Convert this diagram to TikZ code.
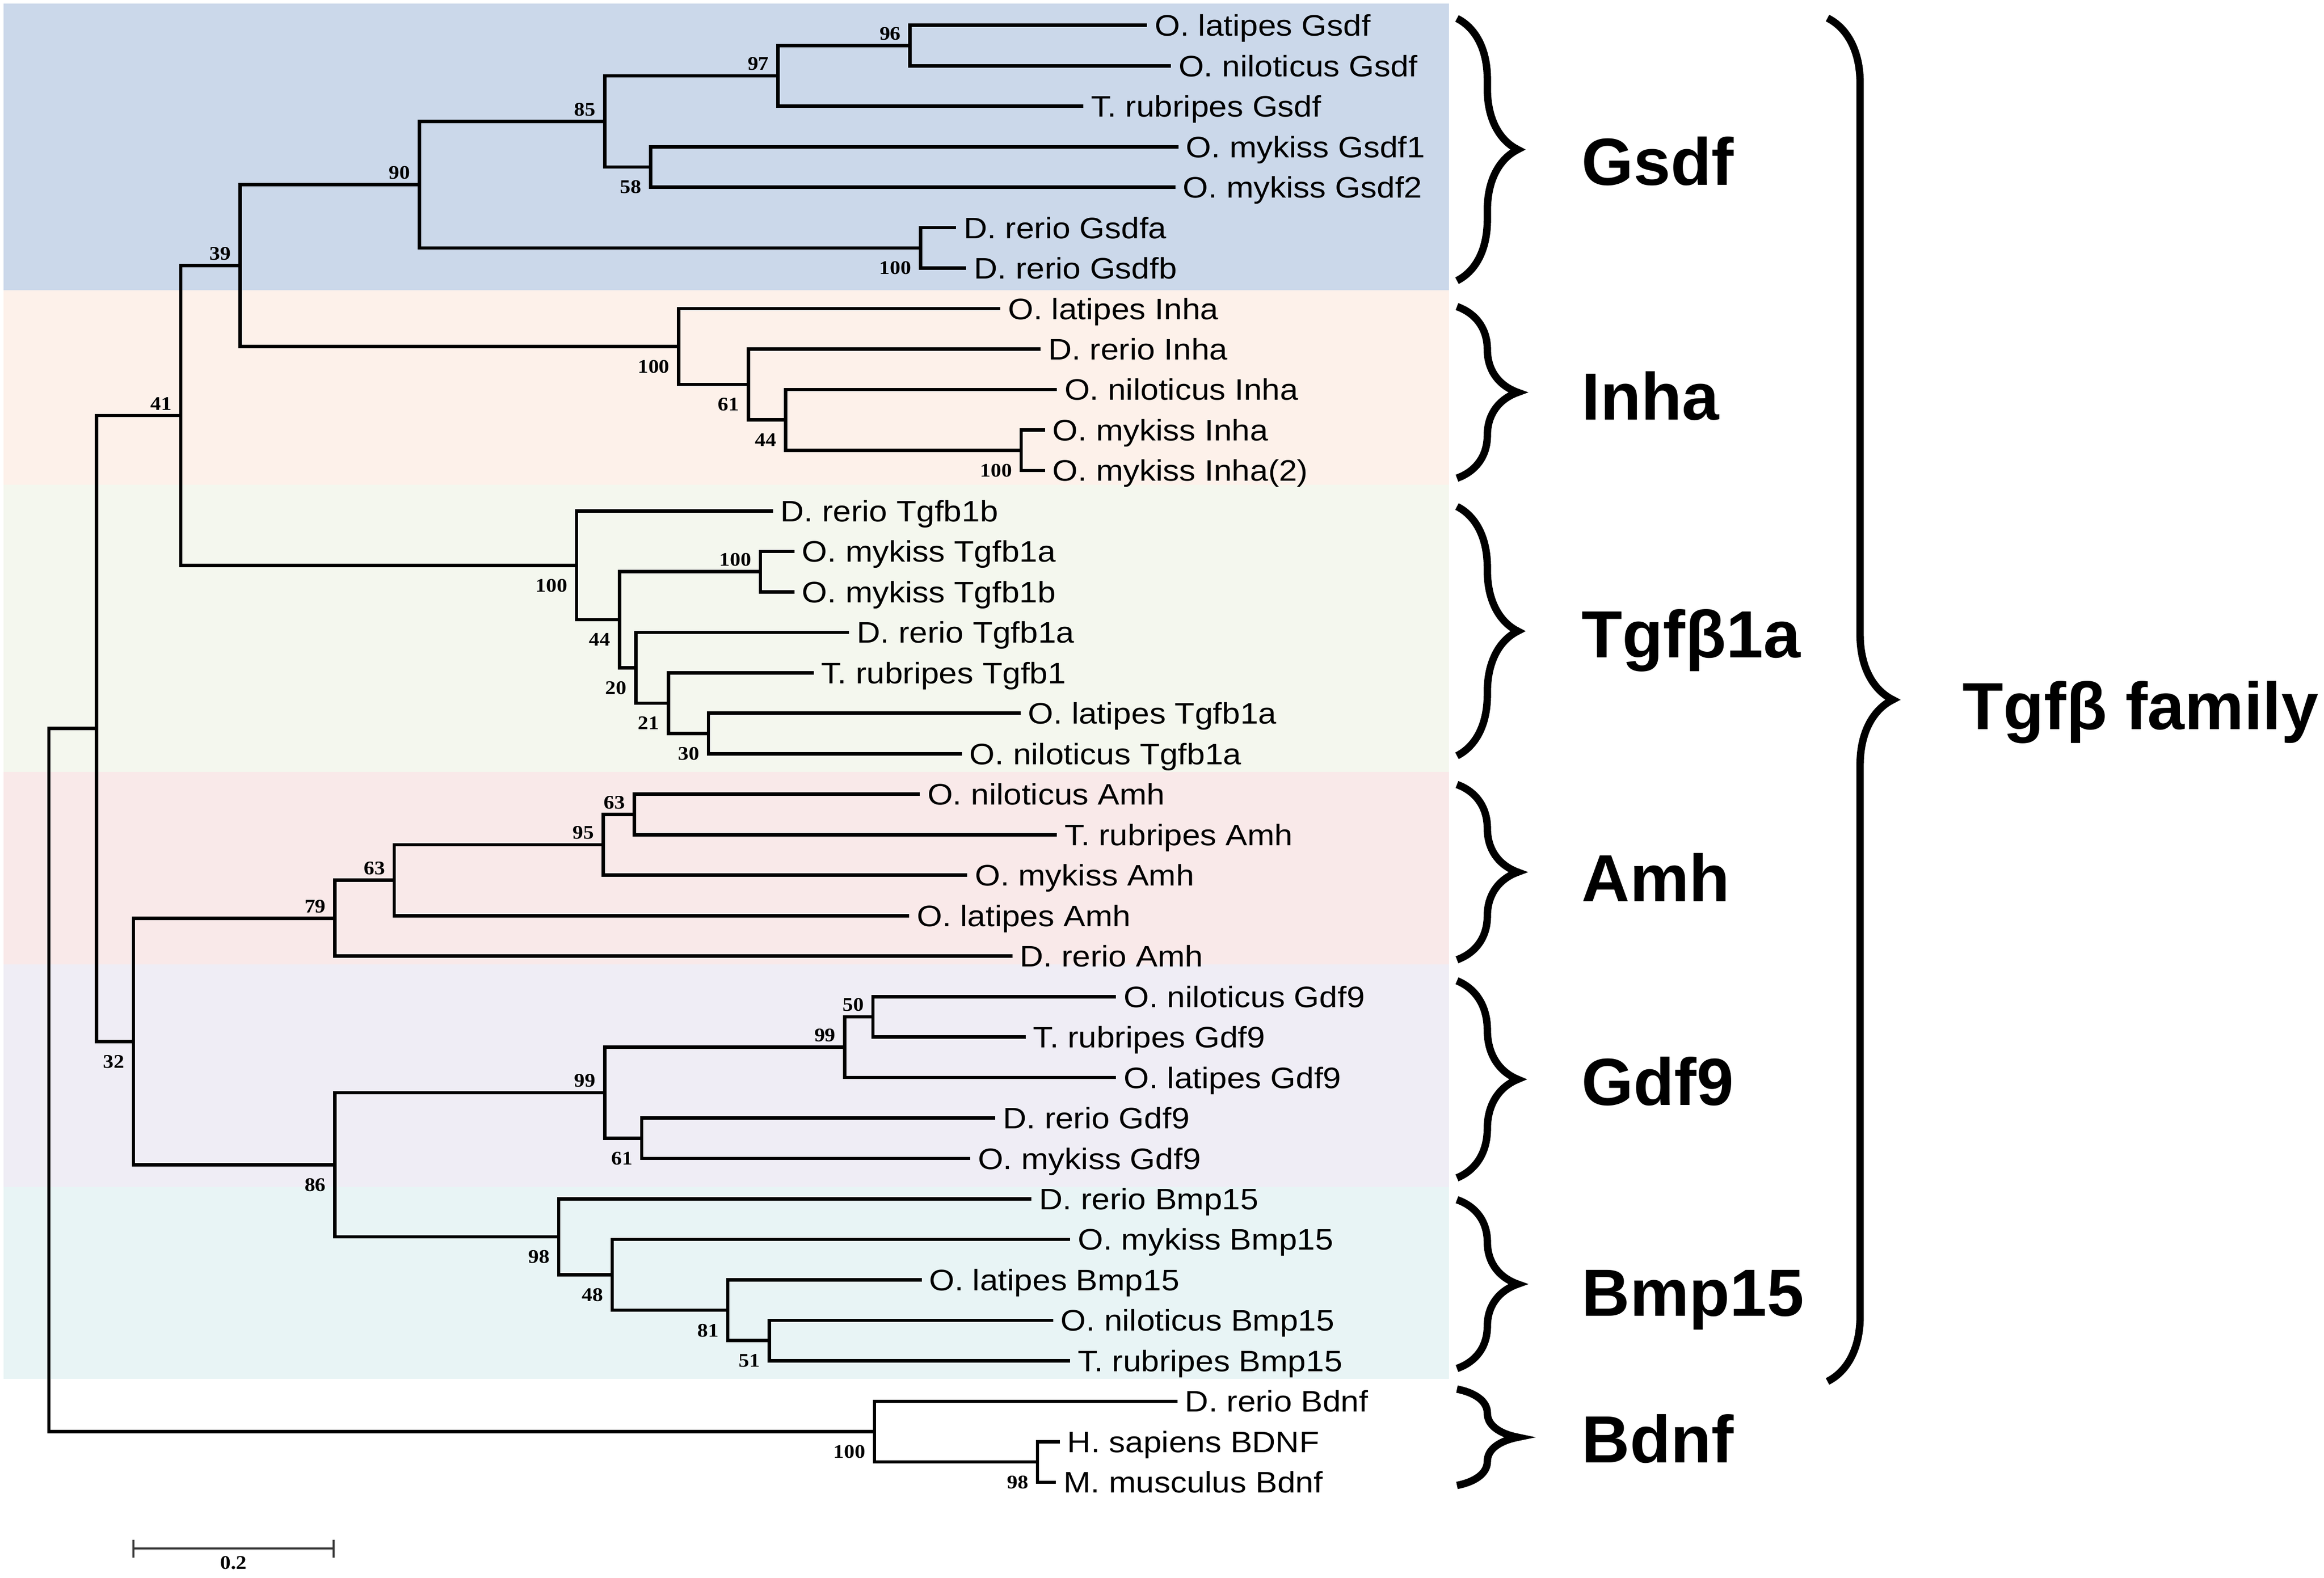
\documentclass[tikz,border=0pt]{standalone}
\usepackage{fontspec}
\setmainfont{Liberation Sans}
\newfontfamily\leaffont[FakeStretch=1.1]{Liberation Sans}
\newfontfamily\bootfont[FakeStretch=1.1]{Liberation Serif}
\usetikzlibrary{decorations.pathreplacing}
\definecolor{gsdfbg}{HTML}{CBD8EA}
\definecolor{inhabg}{HTML}{FDF1EA}
\definecolor{tgfbbg}{HTML}{F4F7EE}
\definecolor{amhbg}{HTML}{F9E9E9}
\definecolor{gdfbg}{HTML}{EFEDF5}
\definecolor{bmpbg}{HTML}{E8F4F5}
\definecolor{bargray}{HTML}{3A3A3A}
\tikzset{
    tree/.style={line width=2.3pt, line join=miter},
    leaf/.style={anchor=base west, inner sep=0pt, xshift=5pt, yshift=-7.2pt,
        font=\leaffont\fontsize{20}{24}\selectfont},
    bsup/.style={anchor=south east, inner sep=0pt, xshift=-6pt, yshift=3.5pt,
        font=\bootfont\bfseries\fontsize{13}{15}\selectfont},
    bsdn/.style={anchor=north east, inner sep=0pt, xshift=-6pt, yshift=-9pt,
        font=\bootfont\bfseries\fontsize{13}{15}\selectfont},
    scalelabel/.style={anchor=north, inner sep=0pt, yshift=-5pt,
        font=\bootfont\bfseries\fontsize{13}{15}\selectfont},
    clade/.style={anchor=base west, inner sep=0pt, yshift=-16.3pt,
        font=\bfseries\fontsize{45}{54}\selectfont},
    cladebrace/.style={decorate, decoration={brace, amplitude=41pt}, line width=5pt},
    familybrace/.style={decorate, decoration={brace, amplitude=44pt}, line width=5pt}
}

\begin{document}
\begin{tikzpicture}[x=1pt, y=-27.31pt]
    \useasboundingbox (0,0.374) rectangle (1568,39.357);

    \fill[gsdfbg] (2.5,0.466) rectangle (977.6,7.55);
    \fill[inhabg] (2.5,7.55) rectangle (977.6,12.35);
    \fill[tgfbbg] (2.5,12.35) rectangle (977.6,19.45);
    \fill[amhbg] (2.5,19.45) rectangle (977.6,24.2);
    \fill[gdfbg] (2.5,24.2) rectangle (977.6,29.7);
    \fill[bmpbg] (2.5,29.7) rectangle (977.6,34.45);

    \coordinate (l1) at (774,1);   \node[leaf] (t1) at (l1) {O. latipes Gsdf};
    \coordinate (l2) at (790,2);   \node[leaf] (t2) at (l2) {O. niloticus Gsdf};
    \coordinate (l3) at (731,3);   \node[leaf] (t3) at (l3) {T. rubripes Gsdf};
    \coordinate (l4) at (795,4);   \node[leaf] (t4) at (l4) {O. mykiss Gsdf1};
    \coordinate (l5) at (793,5);   \node[leaf] (t5) at (l5) {O. mykiss Gsdf2};
    \coordinate (l6) at (645,6);   \node[leaf] (t6) at (l6) {D. rerio Gsdfa};
    \coordinate (l7) at (652,7);   \node[leaf] (t7) at (l7) {D. rerio Gsdfb};
    \coordinate (l8) at (675,8);   \node[leaf] (t8) at (l8) {O. latipes Inha};
    \coordinate (l9) at (702,9);   \node[leaf] (t9) at (l9) {D. rerio Inha};
    \coordinate (l10) at (713,10); \node[leaf] (t10) at (l10) {O. niloticus Inha};
    \coordinate (l11) at (705,11); \node[leaf] (t11) at (l11) {O. mykiss Inha};
    \coordinate (l12) at (705,12); \node[leaf] (t12) at (l12) {O. mykiss Inha(2)};
    \coordinate (l13) at (521.5,13); \node[leaf] (t13) at (l13) {D. rerio Tgfb1b};
    \coordinate (l14) at (536,14); \node[leaf] (t14) at (l14) {O. mykiss Tgfb1a};
    \coordinate (l15) at (536,15); \node[leaf] (t15) at (l15) {O. mykiss Tgfb1b};
    \coordinate (l16) at (573,16); \node[leaf] (t16) at (l16) {D. rerio Tgfb1a};
    \coordinate (l17) at (549,17); \node[leaf] (t17) at (l17) {T. rubripes Tgfb1};
    \coordinate (l18) at (688.5,18); \node[leaf] (t18) at (l18) {O. latipes Tgfb1a};
    \coordinate (l19) at (649,19); \node[leaf] (t19) at (l19) {O. niloticus Tgfb1a};
    \coordinate (l20) at (620.6,20); \node[leaf] (t20) at (l20) {O. niloticus Amh};
    \coordinate (l21) at (713,21); \node[leaf] (t21) at (l21) {T. rubripes Amh};
    \coordinate (l22) at (652.6,22); \node[leaf] (t22) at (l22) {O. mykiss Amh};
    \coordinate (l23) at (613.4,23); \node[leaf] (t23) at (l23) {O. latipes Amh};
    \coordinate (l24) at (683,24); \node[leaf] (t24) at (l24) {D. rerio Amh};
    \coordinate (l25) at (753,25); \node[leaf] (t25) at (l25) {O. niloticus Gdf9};
    \coordinate (l26) at (692,26); \node[leaf] (t26) at (l26) {T. rubripes Gdf9};
    \coordinate (l27) at (753,27); \node[leaf] (t27) at (l27) {O. latipes Gdf9};
    \coordinate (l28) at (671.5,28); \node[leaf] (t28) at (l28) {D. rerio Gdf9};
    \coordinate (l29) at (654.6,29); \node[leaf] (t29) at (l29) {O. mykiss Gdf9};
    \coordinate (l30) at (696,30); \node[leaf] (t30) at (l30) {D. rerio Bmp15};
    \coordinate (l31) at (722,31); \node[leaf] (t31) at (l31) {O. mykiss Bmp15};
    \coordinate (l32) at (621.8,32); \node[leaf] (t32) at (l32) {O. latipes Bmp15};
    \coordinate (l33) at (710.5,33); \node[leaf] (t33) at (l33) {O. niloticus Bmp15};
    \coordinate (l34) at (722,34); \node[leaf] (t34) at (l34) {T. rubripes Bmp15};
    \coordinate (l35) at (794.4,35); \node[leaf] (t35) at (l35) {D. rerio Bdnf};
    \coordinate (l36) at (715,36); \node[leaf] (t36) at (l36) {H. sapiens BDNF};
    \coordinate (l37) at (712.4,37); \node[leaf] (t37) at (l37) {M. musculus Bdnf};

    \coordinate (n96) at (614,1.5);
    \coordinate (n97) at (525,2.25);
    \coordinate (n58) at (439,4.5);
    \coordinate (n85) at (408,3.375);
    \coordinate (n100a) at (621,6.5);
    \coordinate (n90) at (283,4.9375);
    \coordinate (n100c) at (689,11.5);
    \coordinate (n44a) at (530,10.75);
    \coordinate (n61a) at (505,9.875);
    \coordinate (n100b) at (458,8.9375);
    \coordinate (n39) at (162,6.9375);
    \coordinate (n100e) at (513,14.5);
    \coordinate (n30) at (478,18.5);
    \coordinate (n21) at (451,17.75);
    \coordinate (n20) at (429,16.875);
    \coordinate (n44b) at (418,15.6875);
    \coordinate (n100d) at (389,14.34375);
    \coordinate (n41) at (122,10.640625);
    \coordinate (n63a) at (428,20.5);
    \coordinate (n95) at (407,21.25);
    \coordinate (n63b) at (266,22.125);
    \coordinate (n79) at (226,23.0625);
    \coordinate (n50) at (589,25.5);
    \coordinate (n99a) at (570,26.25);
    \coordinate (n61b) at (433,28.5);
    \coordinate (n99b) at (408,27.375);
    \coordinate (n51) at (519,33.5);
    \coordinate (n81) at (491,32.75);
    \coordinate (n48) at (413,31.875);
    \coordinate (n98a) at (377,30.9375);
    \coordinate (n86) at (226,29.15625);
    \coordinate (n32) at (90,26.109375);
    \coordinate (ningroup) at (65,18.375);
    \coordinate (n98b) at (700,36.5);
    \coordinate (n100f) at (590,35.75);
    \coordinate (nroot) at (33,27.0625);

    \draw[tree]
    (n96) |- (l1) (n96) |- (l2)
    (n97) |- (n96) (n97) |- (l3)
    (n58) |- (l4) (n58) |- (l5)
    (n85) |- (n97) (n85) |- (n58)
    (n100a) |- (l6) (n100a) |- (l7)
    (n90) |- (n85) (n90) |- (n100a)
    (n100c) |- (l11) (n100c) |- (l12)
    (n44a) |- (l10) (n44a) |- (n100c)
    (n61a) |- (l9) (n61a) |- (n44a)
    (n100b) |- (l8) (n100b) |- (n61a)
    (n39) |- (n90) (n39) |- (n100b)
    (n100e) |- (l14) (n100e) |- (l15)
    (n30) |- (l18) (n30) |- (l19)
    (n21) |- (l17) (n21) |- (n30)
    (n20) |- (l16) (n20) |- (n21)
    (n44b) |- (n100e) (n44b) |- (n20)
    (n100d) |- (l13) (n100d) |- (n44b)
    (n41) |- (n39) (n41) |- (n100d)
    (n63a) |- (l20) (n63a) |- (l21)
    (n95) |- (n63a) (n95) |- (l22)
    (n63b) |- (n95) (n63b) |- (l23)
    (n79) |- (n63b) (n79) |- (l24)
    (n50) |- (l25) (n50) |- (l26)
    (n99a) |- (n50) (n99a) |- (l27)
    (n61b) |- (l28) (n61b) |- (l29)
    (n99b) |- (n99a) (n99b) |- (n61b)
    (n51) |- (l33) (n51) |- (l34)
    (n81) |- (l32) (n81) |- (n51)
    (n48) |- (l31) (n48) |- (n81)
    (n98a) |- (l30) (n98a) |- (n48)
    (n86) |- (n99b) (n86) |- (n98a)
    (n32) |- (n79) (n32) |- (n86)
    (ningroup) |- (n41) (ningroup) |- (n32)
    (n98b) |- (l36) (n98b) |- (l37)
    (n100f) |- (l35) (n100f) |- (n98b)
    (nroot) |- (ningroup) (nroot) |- (n100f);

    \node[bsup] (b96) at (n96) {96};
    \node[bsup] (b97) at (n97) {97};
    \node[bsup] (b85) at (n85) {85};
    \node[bsdn] (b58) at (n58) {58};
    \node[bsup] (b90) at (n90) {90};
    \node[bsdn] (b100a) at (n100a) {100};
    \node[bsup] (b39) at (n39) {39};
    \node[bsdn] (b100b) at (n100b) {100};
    \node[bsdn] (b61a) at (n61a) {61};
    \node[bsdn] (b44a) at (n44a) {44};
    \node[bsdn] (b100c) at (n100c) {100};
    \node[bsup] (b41) at (n41) {41};
    \node[bsdn] (b100d) at (n100d) {100};
    \node[bsup] (b100e) at (n100e) {100};
    \node[bsdn] (b44b) at (n44b) {44};
    \node[bsdn] (b20) at (n20) {20};
    \node[bsdn] (b21) at (n21) {21};
    \node[bsdn] (b30) at (n30) {30};
    \node[bsup] (b63a) at (n63a) {63};
    \node[bsup] (b95) at (n95) {95};
    \node[bsup] (b63b) at (n63b) {63};
    \node[bsup] (b79) at (n79) {79};
    \node[bsdn] (b32) at (n32) {32};
    \node[bsup] (b50) at (n50) {50};
    \node[bsup] (b99a) at (n99a) {99};
    \node[bsup] (b99b) at (n99b) {99};
    \node[bsdn] (b61b) at (n61b) {61};
    \node[bsdn] (b86) at (n86) {86};
    \node[bsdn] (b98a) at (n98a) {98};
    \node[bsdn] (b48) at (n48) {48};
    \node[bsdn] (b81) at (n81) {81};
    \node[bsdn] (b51) at (n51) {51};
    \node[bsdn] (b100f) at (n100f) {100};
    \node[bsdn] (b98b) at (n98b) {98};

    \draw[cladebrace] (983,0.83) -- (983,7.31);
    \draw[cladebrace] (983,7.95) -- (983,12.19);
    \draw[cladebrace] (983,12.89) -- (983,19.05);
    \draw[cladebrace] (983,19.76) -- (983,24.09);
    \draw[cladebrace] (983,24.61) -- (983,29.48);
    \draw[cladebrace] (983,30.02) -- (983,34.19);
    \draw[cladebrace] (983,34.7) -- (983,37.08);
    \draw[familybrace] (1233,0.82) -- (1233,34.51);

    \node[clade] (cgsdf) at (1067,4.35) {Gsdf};
    \node[clade] (cinha) at (1067,10.15) {Inha};
    \node[clade] (ctgfb) at (1067,16.03) {Tgfβ1a};
    \node[clade] (camh) at (1067,22.05) {Amh};
    \node[clade] (cgdf) at (1067,27.09) {Gdf9};
    \node[clade] (cbmp) at (1067,32.3) {Bmp15};
    \node[clade] (cbdnf) at (1067,35.92) {Bdnf};
    \node[clade] (cfamily) at (1324,17.8) {Tgfβ family};

    \coordinate (s0) at (90,38.64);
    \coordinate (s1) at (225,38.64);
    \draw[bargray, line width=1.5pt]
    (s0) -- (s1)
    ([yshift=6pt]s0) -- ([yshift=-6pt]s0)
    ([yshift=6pt]s1) -- ([yshift=-6pt]s1);
    \node[scalelabel] (sbar) at (157.5,38.64) {0.2};
\end{tikzpicture}
\end{document}
